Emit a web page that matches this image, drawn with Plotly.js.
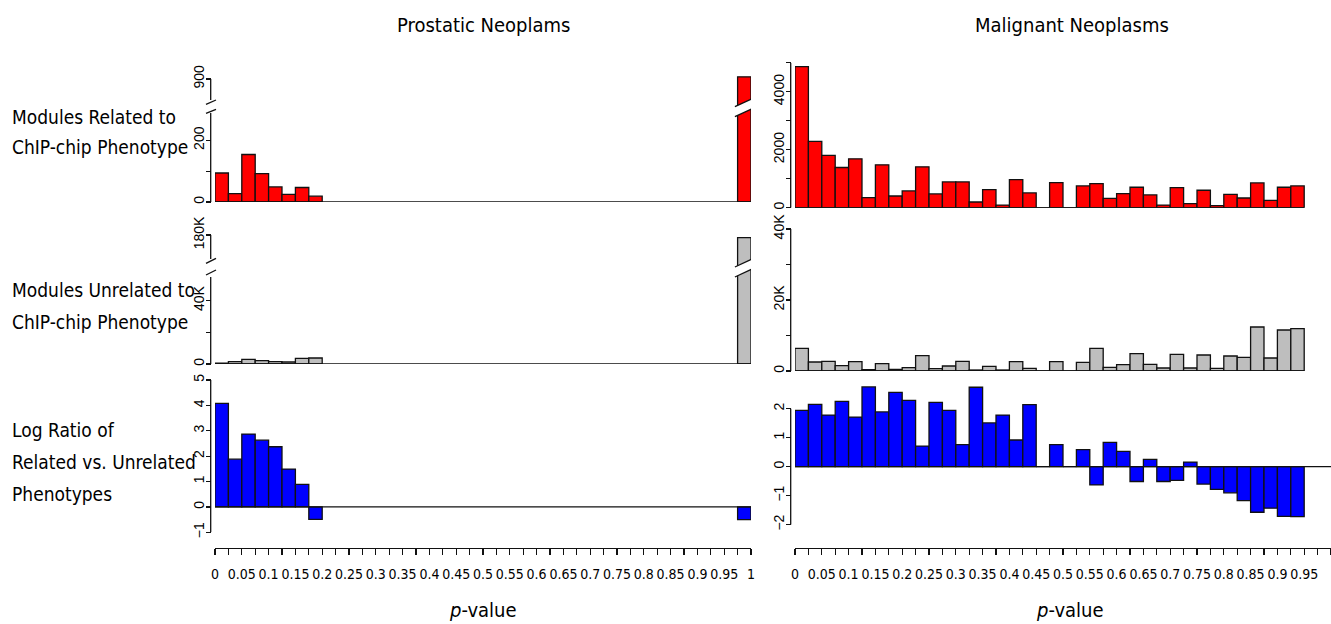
<!DOCTYPE html>
<html>
<head>
<meta charset="utf-8">
<script src="https://cdn.plot.ly/plotly-3.0.1.min.js"></script>
<style>html,body{margin:0;padding:0;background:#fff;}#chart{width:1331px;height:624px;}</style>
</head>
<body>
<div id="chart"></div>
<script>
// ---------- data ----------
const binWidth = 0.025;
const leftBins = [0, 0.025, 0.05, 0.075, 0.1, 0.125, 0.15, 0.175, 0.975];
const leftRelated = [94, 27, 154, 92, 49, 25, 47, 19, 907];
const leftUnrelated = [600, 1500, 2950, 2100, 1500, 1250, 3600, 3800, 178400];
const leftLogRatio = [4.08, 1.88, 2.87, 2.63, 2.37, 1.49, 0.89, -0.49, -0.5];

const rightBins = [0, 0.025, 0.05, 0.075, 0.1, 0.125, 0.15, 0.175, 0.2, 0.225,
  0.25, 0.275, 0.3, 0.325, 0.35, 0.375, 0.4, 0.425, 0.45, 0.475,
  0.5, 0.525, 0.55, 0.575, 0.6, 0.625, 0.65, 0.675, 0.7, 0.725,
  0.75, 0.775, 0.8, 0.825, 0.85, 0.875, 0.9, 0.925];
const rightRelated = [4864, 2288, 1802, 1386, 1687, 347, 1479, 404, 578, 1410,
  474, 890, 890, 196, 624, 92, 971, 508, 0, 867,
  0, 751, 832, 323, 485, 705, 439, 92, 693, 139,
  601, 69, 462, 335, 855, 254, 705, 751];
const rightUnrelated = [6385, 2535, 2723, 1502, 2629, 376, 2066, 470, 939, 4319,
  657, 1408, 2723, 282, 1315, 282, 2629, 751, 0, 2629,
  0, 2441, 6385, 1033, 1784, 4883, 1878, 845, 4695, 845,
  4507, 751, 4226, 3850, 12395, 3662, 11550, 11925];
const rightLogRatio = [1.94, 2.15, 1.78, 2.25, 1.71, 2.75, 1.89, 2.56, 2.29, 0.71,
  2.22, 1.94, 0.76, 2.74, 1.51, 1.78, 0.92, 2.14, 0, 0.76,
  0, 0.59, -0.63, 0.84, 0.53, -0.51, 0.25, -0.51, -0.47, 0.16,
  -0.60, -0.78, -0.90, -1.17, -1.57, -1.43, -1.71, -1.72];

const xTickVals = [0, 0.025, 0.05, 0.075, 0.1, 0.125, 0.15, 0.175, 0.2, 0.225,
  0.25, 0.275, 0.3, 0.325, 0.35, 0.375, 0.4, 0.425, 0.45, 0.475,
  0.5, 0.525, 0.55, 0.575, 0.6, 0.625, 0.65, 0.675, 0.7, 0.725,
  0.75, 0.775, 0.8, 0.825, 0.85, 0.875, 0.9, 0.925, 0.95, 0.975, 1];
const xTickText = ['0', '', '0.05', '', '0.1', '', '0.15', '', '0.2', '',
  '0.25', '', '0.3', '', '0.35', '', '0.4', '', '0.45', '',
  '0.5', '', '0.55', '', '0.6', '', '0.65', '', '0.7', '',
  '0.75', '', '0.8', '', '0.85', '', '0.9', '', '0.95', '', '1'];

const panelTitles = ['Prostatic Neoplams', 'Malignant Neoplasms'];
const rowLabels = [['Modules Related to', 'ChIP-chip Phenotype'],
  ['Modules Unrelated to', 'ChIP-chip Phenotype'],
  ['Log Ratio of', 'Related vs. Unrelated', 'Phenotypes']];

// ---------- layout helpers ----------
const W = 1331, H = 624;
const px = v => v / W;
const py = v => 1 - v / H;
const dom = (topPx, botPx) => [py(botPx), py(topPx)];
const NARROW = 'Liberation Sans Narrow, Arial Narrow, DejaVu Sans Condensed, Liberation Sans, sans-serif';
const RED = '#FF0000', GRAY = '#BEBEBE', BLUE = '#0000FF';

function bars(x, y, color, xa, ya) {
  return {type: 'bar', x: x, y: y, width: binWidth, offset: 0, xaxis: xa, yaxis: ya,
    marker: {color: color, line: {color: '#111', width: 1.3}}, hoverinfo: 'x+y', showlegend: false};
}
function baseline(x, xa, ya) {
  return {type: 'scatter', mode: 'lines', x: [x[0], x[x.length - 1] + binWidth], y: [0, 0],
    xaxis: xa, yaxis: ya, line: {color: '#111', width: 1.3}, hoverinfo: 'skip', showlegend: false};
}

const fullLeft = [0, 1 - binWidth];
const traces = [
  bars(leftBins, leftRelated, RED, 'x', 'y'),
  bars(leftBins, leftRelated, RED, 'x', 'y2'),
  baseline(fullLeft, 'x', 'y'),
  bars(leftBins, leftUnrelated, GRAY, 'x', 'y3'),
  bars(leftBins, leftUnrelated, GRAY, 'x', 'y4'),
  baseline(fullLeft, 'x', 'y3'),
  bars(leftBins, leftLogRatio, BLUE, 'x', 'y5'),
  baseline(fullLeft, 'x', 'y5'),
  bars(rightBins, rightRelated, RED, 'x2', 'y6'),
  baseline(rightBins, 'x2', 'y6'),
  bars(rightBins, rightUnrelated, GRAY, 'x2', 'y7'),
  baseline(rightBins, 'x2', 'y7'),
  bars(rightBins, rightLogRatio, BLUE, 'x2', 'y8'),
  baseline([0, 1 - binWidth], 'x2', 'y8')
];

const LAX = 210.7, RAX = 790.7;
function xax(d) {
  return {domain: d, range: [0, 1], anchor: 'free', position: py(548), showline: true,
    linecolor: '#111', linewidth: 1.3, ticks: 'outside', ticklen: 6, tickwidth: 1.2, tickcolor: '#111',
    tickmode: 'array', tickvals: xTickVals, ticktext: xTickText, tickangle: 0,
    tickfont: {family: NARROW, size: 14, color: '#000'}, ticklabelstandoff: 7,
    showgrid: false, zeroline: false, fixedrange: true};
}
function yax(topPx, botPx, range, tv, tt, xpos) {
  return {domain: dom(topPx, botPx), range: range, anchor: 'free', position: px(xpos),
    showline: false, ticks: 'outside', ticklen: 5, tickwidth: 1.2, tickcolor: '#111',
    tickmode: 'array', tickvals: tv, ticktext: tt, tickangle: -90, ticklabelstandoff: -4,
    tickfont: {family: 'Liberation Sans, Arial, sans-serif', size: 14, color: '#000'},
    showgrid: false, zeroline: false, fixedrange: true};
}

const layout = {
  width: W, height: H, margin: {l: 0, r: 0, t: 0, b: 0},
  paper_bgcolor: '#fff', plot_bgcolor: 'rgba(0,0,0,0)', bargap: 0, barmode: 'overlay',
  showlegend: false,
  xaxis: xax([px(215), px(751)]),
  xaxis2: xax([px(795), 1]),
  yaxis: yax(107.5, 202, [0, 306.3], [0, 100, 200], ['0', '', '200'], LAX),
  yaxis2: yax(76, 107.5, [807.6, 909.7], [900], ['900'], LAX),
  yaxis3: yax(267.5, 364, [0, 60960], [0, 20000, 40000], ['0', '', '40K'], LAX),
  yaxis4: yax(233, 267.5, [159470, 181263], [180000], ['180K'], LAX),
  yaxis5: yax(380, 532.3, [-1, 5], [-1, 0, 1, 2, 3, 4, 5], ['\u22121', '0', '1', '2', '3', '4', '5'], LAX),
  yaxis6: yax(62.7, 207.7, [0, 5000], [0, 1000, 2000, 3000, 4000, 5000], ['0', '', '2000', '', '4000', ''], RAX),
  yaxis7: yax(229, 371, [0, 40000], [0, 10000, 20000, 30000, 40000], ['0', '', '20K', '', '40K'], RAX),
  yaxis8: yax(385.5, 524.7, [-2, 2.8], [-2, -1, 0, 1, 2], ['\u22122', '\u22121', '0', '1', '2'], RAX),
  shapes: [],
  annotations: []
};

const LINE = {color: '#111', width: 1.3};
// axis lines (R style, from first to last tick)
function vline(xp, y0p, y1p) {
  layout.shapes.push({type: 'line', xref: 'paper', yref: 'paper', x0: px(xp), x1: px(xp), y0: py(y0p), y1: py(y1p), line: LINE});
}
function vlineData(xp, yref, y0, y1) {
  layout.shapes.push({type: 'line', xref: 'paper', yref: yref, x0: px(xp), x1: px(xp), y0: y0, y1: y1, line: LINE});
}
vline(LAX, 202, 113); vline(LAX, 100, 79);
vline(LAX, 364, 277); vline(LAX, 259, 235);
vlineData(LAX, 'y5', -1, 5);
vlineData(RAX, 'y6', 0, 5000);
vlineData(RAX, 'y7', 0, 40000);
vlineData(RAX, 'y8', -2, 2);

// axis break slashes
function slash(x0, y0, x1, y1) {
  layout.shapes.push({type: 'line', xref: 'paper', yref: 'paper', x0: px(x0), y0: py(y0), x1: px(x1), y1: py(y1), line: LINE});
}
slash(206, 104.3, 216, 100); slash(206, 113.3, 216, 109.3);
slash(206, 263.3, 216, 258.3); slash(206, 275, 216, 270);

// bar break bands on the last (broken) bar
const lastBin = leftBins[leftBins.length - 1];
const bx0 = lastBin - 0.005, bx1 = lastBin + binWidth + 0.004;
function band(topL, topR, botL, botR) {
  layout.shapes.push({type: 'path', xref: 'x', yref: 'paper', layer: 'above',
    path: `M${bx0},${py(botL)} L${bx1},${py(botR)} L${bx1},${py(topR)} L${bx0},${py(topL)} Z`,
    fillcolor: '#fff', line: {width: 0}});
  layout.shapes.push({type: 'line', xref: 'x', yref: 'paper', x0: bx0, x1: bx1, y0: py(topL), y1: py(topR), line: LINE});
  layout.shapes.push({type: 'line', xref: 'x', yref: 'paper', x0: bx0, x1: bx1, y0: py(botL), y1: py(botR), line: LINE});
}
band(106.7, 98.3, 116.7, 108.3);
band(267, 258.6, 277, 268.6);

// texts
function ann(text, x, y, size, xanchor) {
  layout.annotations.push({text: text, x: px(x), y: py(y), xref: 'paper', yref: 'paper',
    showarrow: false, xanchor: xanchor || 'center', yanchor: 'middle',
    font: {family: NARROW, size: size, color: '#000'}});
}
ann(panelTitles[0], 483, 25, 20);
ann(panelTitles[1], 1072, 25, 20);
ann('<i>p</i>-value', 483, 610, 20);
ann('<i>p</i>-value', 1070, 610, 20);
const rowY = [[117, 147], [290, 322], [430, 462, 494]];
rowLabels.forEach((lines, i) => lines.forEach((t, j) => ann(t, 10, rowY[i][j], 19, 'left')));

Plotly.newPlot('chart', traces, layout, {displayModeBar: false, staticPlot: true});
</script>
</body>
</html>
